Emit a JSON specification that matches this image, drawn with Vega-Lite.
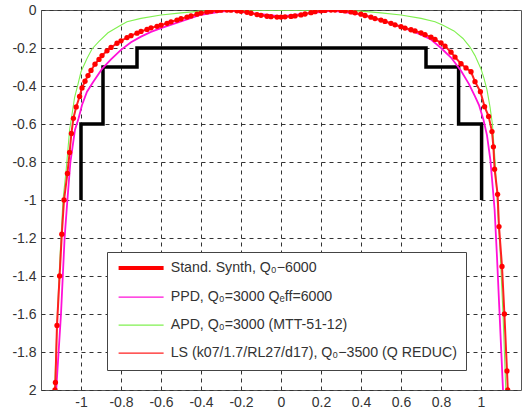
{
  "$schema": "https://vega.github.io/schema/vega-lite/v6.json",
  "width": 480,
  "height": 380,
  "autosize": {"type": "none"},
  "padding": {"left": 41, "top": 10, "right": 3, "bottom": 21},
  "background": "white",
  "config": {
    "view": {"stroke": "#555", "strokeWidth": 1},
    "axis": {
      "labelFont": "Liberation Sans", "labelFontSize": 14, "labelColor": "#333",
      "grid": true, "gridDash": [4, 4], "gridColor": "#333", "gridWidth": 1,
      "ticks": false, "domain": false, "title": null, "labelPadding": 5
    }
  },
  "data": {"values": [
    {"s":"S","o":1,"x":-1.0,"y":-1.0},{"s":"S","o":2,"x":-1.0,"y":-0.6},{"s":"S","o":3,"x":-0.89,"y":-0.6},{"s":"S","o":4,"x":-0.89,"y":-0.3},{"s":"S","o":5,"x":-0.72,"y":-0.3},{"s":"S","o":6,"x":-0.72,"y":-0.2},{"s":"S","o":7,"x":0.725,"y":-0.2},{"s":"S","o":8,"x":0.725,"y":-0.3},{"s":"S","o":9,"x":0.888,"y":-0.3},{"s":"S","o":10,"x":0.888,"y":-0.6},{"s":"S","o":11,"x":1.003,"y":-0.6},{"s":"S","o":12,"x":1.003,"y":-1.0},

    {"s":"P","o":1,"x":-1.124,"y":-2.0},{"s":"P","o":2,"x":-1.1,"y":-1.6},{"s":"P","o":3,"x":-1.082,"y":-1.2},{"s":"P","o":4,"x":-1.068,"y":-1.0},{"s":"P","o":5,"x":-1.053,"y":-0.8},{"s":"P","o":6,"x":-1.03,"y":-0.63},{"s":"P","o":7,"x":-1.012,"y":-0.57},{"s":"P","o":8,"x":-0.995,"y":-0.5},{"s":"P","o":9,"x":-0.97,"y":-0.43},{"s":"P","o":10,"x":-0.94,"y":-0.38},{"s":"P","o":11,"x":-0.895,"y":-0.31},{"s":"P","o":12,"x":-0.85,"y":-0.26},{"s":"P","o":13,"x":-0.8,"y":-0.21},{"s":"P","o":14,"x":-0.75,"y":-0.17},{"s":"P","o":15,"x":-0.7,"y":-0.14},{"s":"P","o":16,"x":-0.65,"y":-0.115},{"s":"P","o":17,"x":-0.6,"y":-0.095},{"s":"P","o":18,"x":-0.5,"y":-0.06},{"s":"P","o":19,"x":-0.4,"y":-0.025},{"s":"P","o":20,"x":-0.3,"y":-0.008},{"s":"P","o":21,"x":-0.25,"y":-0.004},{"s":"P","o":22,"x":-0.15,"y":-0.016},{"s":"P","o":23,"x":0.0,"y":-0.034},{"s":"P","o":24,"x":0.15,"y":-0.016},{"s":"P","o":25,"x":0.25,"y":-0.004},{"s":"P","o":26,"x":0.3,"y":-0.008},{"s":"P","o":27,"x":0.41,"y":-0.026},{"s":"P","o":28,"x":0.5,"y":-0.055},{"s":"P","o":29,"x":0.6,"y":-0.088},{"s":"P","o":30,"x":0.7,"y":-0.13},{"s":"P","o":31,"x":0.75,"y":-0.155},{"s":"P","o":32,"x":0.8,"y":-0.2},{"s":"P","o":33,"x":0.85,"y":-0.25},{"s":"P","o":34,"x":0.9,"y":-0.32},{"s":"P","o":35,"x":0.94,"y":-0.39},{"s":"P","o":36,"x":0.97,"y":-0.455},{"s":"P","o":37,"x":0.99,"y":-0.5},{"s":"P","o":38,"x":1.013,"y":-0.58},{"s":"P","o":39,"x":1.03,"y":-0.66},{"s":"P","o":40,"x":1.047,"y":-0.79},{"s":"P","o":41,"x":1.06,"y":-0.95},{"s":"P","o":42,"x":1.068,"y":-1.05},{"s":"P","o":43,"x":1.08,"y":-1.3},{"s":"P","o":44,"x":1.095,"y":-1.65},{"s":"P","o":45,"x":1.11,"y":-2.0},

    {"s":"A","o":1,"x":-1.132,"y":-2.0},{"s":"A","o":2,"x":-1.118,"y":-1.6},{"s":"A","o":3,"x":-1.105,"y":-1.3},{"s":"A","o":4,"x":-1.09,"y":-1.0},{"s":"A","o":5,"x":-1.074,"y":-0.84},{"s":"A","o":6,"x":-1.057,"y":-0.63},{"s":"A","o":7,"x":-1.045,"y":-0.55},{"s":"A","o":8,"x":-1.032,"y":-0.46},{"s":"A","o":9,"x":-1.015,"y":-0.39},{"s":"A","o":10,"x":-1.0,"y":-0.325},{"s":"A","o":11,"x":-0.97,"y":-0.255},{"s":"A","o":12,"x":-0.945,"y":-0.205},{"s":"A","o":13,"x":-0.91,"y":-0.165},{"s":"A","o":14,"x":-0.865,"y":-0.12},{"s":"A","o":15,"x":-0.81,"y":-0.086},{"s":"A","o":16,"x":-0.77,"y":-0.062},{"s":"A","o":17,"x":-0.7,"y":-0.044},{"s":"A","o":18,"x":-0.6,"y":-0.026},{"s":"A","o":19,"x":-0.5,"y":-0.015},{"s":"A","o":20,"x":-0.4,"y":-0.006},{"s":"A","o":21,"x":-0.3,"y":-0.002},{"s":"A","o":22,"x":-0.2,"y":-0.001},{"s":"A","o":23,"x":0.0,"y":-0.001},{"s":"A","o":24,"x":0.2,"y":-0.001},{"s":"A","o":25,"x":0.3,"y":-0.002},{"s":"A","o":26,"x":0.4,"y":-0.006},{"s":"A","o":27,"x":0.5,"y":-0.015},{"s":"A","o":28,"x":0.6,"y":-0.026},{"s":"A","o":29,"x":0.7,"y":-0.044},{"s":"A","o":30,"x":0.77,"y":-0.062},{"s":"A","o":31,"x":0.81,"y":-0.08},{"s":"A","o":32,"x":0.865,"y":-0.11},{"s":"A","o":33,"x":0.91,"y":-0.15},{"s":"A","o":34,"x":0.945,"y":-0.195},{"s":"A","o":35,"x":0.97,"y":-0.24},{"s":"A","o":36,"x":1.0,"y":-0.31},{"s":"A","o":37,"x":1.015,"y":-0.36},{"s":"A","o":38,"x":1.03,"y":-0.42},{"s":"A","o":39,"x":1.045,"y":-0.51},{"s":"A","o":40,"x":1.057,"y":-0.6},{"s":"A","o":41,"x":1.07,"y":-0.79},{"s":"A","o":42,"x":1.083,"y":-1.035},{"s":"A","o":43,"x":1.097,"y":-1.3},{"s":"A","o":44,"x":1.11,"y":-1.6},{"s":"A","o":45,"x":1.124,"y":-2.0},

    {"s":"L","o":1,"x":-1.13,"y":-2.0},{"s":"L","o":2,"x":-1.128,"y":-1.96},{"s":"L","o":3,"x":-1.12,"y":-1.66},{"s":"L","o":4,"x":-1.107,"y":-1.4},{"s":"L","o":5,"x":-1.096,"y":-1.18},{"s":"L","o":6,"x":-1.085,"y":-1.0},{"s":"L","o":7,"x":-1.068,"y":-0.86},{"s":"L","o":8,"x":-1.057,"y":-0.75},{"s":"L","o":9,"x":-1.048,"y":-0.65},{"s":"L","o":10,"x":-1.038,"y":-0.57},{"s":"L","o":11,"x":-1.024,"y":-0.51},{"s":"L","o":12,"x":-1.007,"y":-0.455},{"s":"L","o":13,"x":-0.995,"y":-0.41},{"s":"L","o":14,"x":-0.98,"y":-0.375},{"s":"L","o":15,"x":-0.965,"y":-0.345},{"s":"L","o":16,"x":-0.95,"y":-0.318},{"s":"L","o":17,"x":-0.93,"y":-0.285},{"s":"L","o":18,"x":-0.91,"y":-0.26},{"s":"L","o":19,"x":-0.895,"y":-0.24},{"s":"L","o":20,"x":-0.87,"y":-0.215},{"s":"L","o":21,"x":-0.85,"y":-0.197},{"s":"L","o":22,"x":-0.82,"y":-0.175},{"s":"L","o":23,"x":-0.8,"y":-0.162},{"s":"L","o":24,"x":-0.77,"y":-0.145},{"s":"L","o":25,"x":-0.75,"y":-0.135},{"s":"L","o":26,"x":-0.72,"y":-0.122},{"s":"L","o":27,"x":-0.7,"y":-0.113},{"s":"L","o":28,"x":-0.67,"y":-0.102},{"s":"L","o":29,"x":-0.65,"y":-0.094},{"s":"L","o":30,"x":-0.62,"y":-0.086},{"s":"L","o":31,"x":-0.6,"y":-0.08},{"s":"L","o":32,"x":-0.57,"y":-0.07},{"s":"L","o":33,"x":-0.55,"y":-0.062},{"s":"L","o":34,"x":-0.52,"y":-0.053},{"s":"L","o":35,"x":-0.5,"y":-0.046},{"s":"L","o":36,"x":-0.47,"y":-0.037},{"s":"L","o":37,"x":-0.45,"y":-0.031},{"s":"L","o":38,"x":-0.42,"y":-0.022},{"s":"L","o":39,"x":-0.4,"y":-0.016},{"s":"L","o":40,"x":-0.37,"y":-0.01},{"s":"L","o":41,"x":-0.35,"y":-0.006},{"s":"L","o":42,"x":-0.32,"y":-0.003},{"s":"L","o":43,"x":-0.3,"y":-0.001},{"s":"L","o":44,"x":-0.27,"y":0.0},{"s":"L","o":45,"x":-0.25,"y":-0.001},{"s":"L","o":46,"x":-0.22,"y":-0.004},{"s":"L","o":47,"x":-0.2,"y":-0.007},{"s":"L","o":48,"x":-0.17,"y":-0.012},{"s":"L","o":49,"x":-0.15,"y":-0.017},{"s":"L","o":50,"x":-0.12,"y":-0.024},{"s":"L","o":51,"x":-0.1,"y":-0.028},{"s":"L","o":52,"x":-0.07,"y":-0.033},{"s":"L","o":53,"x":-0.05,"y":-0.035},{"s":"L","o":54,"x":-0.02,"y":-0.037},{"s":"L","o":55,"x":0.0,"y":-0.037},{"s":"L","o":56,"x":0.02,"y":-0.036},{"s":"L","o":57,"x":0.05,"y":-0.034},{"s":"L","o":58,"x":0.07,"y":-0.031},{"s":"L","o":59,"x":0.1,"y":-0.026},{"s":"L","o":60,"x":0.12,"y":-0.021},{"s":"L","o":61,"x":0.15,"y":-0.014},{"s":"L","o":62,"x":0.17,"y":-0.009},{"s":"L","o":63,"x":0.2,"y":-0.004},{"s":"L","o":64,"x":0.22,"y":-0.002},{"s":"L","o":65,"x":0.25,"y":0.0},{"s":"L","o":66,"x":0.27,"y":0.0},{"s":"L","o":67,"x":0.3,"y":-0.002},{"s":"L","o":68,"x":0.32,"y":-0.005},{"s":"L","o":69,"x":0.35,"y":-0.01},{"s":"L","o":70,"x":0.37,"y":-0.015},{"s":"L","o":71,"x":0.4,"y":-0.022},{"s":"L","o":72,"x":0.42,"y":-0.029},{"s":"L","o":73,"x":0.45,"y":-0.038},{"s":"L","o":74,"x":0.47,"y":-0.045},{"s":"L","o":75,"x":0.5,"y":-0.053},{"s":"L","o":76,"x":0.52,"y":-0.06},{"s":"L","o":77,"x":0.55,"y":-0.07},{"s":"L","o":78,"x":0.57,"y":-0.078},{"s":"L","o":79,"x":0.6,"y":-0.088},{"s":"L","o":80,"x":0.62,"y":-0.095},{"s":"L","o":81,"x":0.65,"y":-0.104},{"s":"L","o":82,"x":0.67,"y":-0.11},{"s":"L","o":83,"x":0.7,"y":-0.12},{"s":"L","o":84,"x":0.72,"y":-0.13},{"s":"L","o":85,"x":0.75,"y":-0.143},{"s":"L","o":86,"x":0.77,"y":-0.155},{"s":"L","o":87,"x":0.8,"y":-0.173},{"s":"L","o":88,"x":0.82,"y":-0.19},{"s":"L","o":89,"x":0.85,"y":-0.222},{"s":"L","o":90,"x":0.87,"y":-0.248},{"s":"L","o":91,"x":0.9,"y":-0.283},{"s":"L","o":92,"x":0.925,"y":-0.305},{"s":"L","o":93,"x":0.95,"y":-0.325},{"s":"L","o":94,"x":0.97,"y":-0.377},{"s":"L","o":95,"x":0.997,"y":-0.43},{"s":"L","o":96,"x":1.018,"y":-0.509},{"s":"L","o":97,"x":1.038,"y":-0.56},{"s":"L","o":98,"x":1.055,"y":-0.64},{"s":"L","o":99,"x":1.062,"y":-0.72},{"s":"L","o":100,"x":1.068,"y":-0.838},{"s":"L","o":101,"x":1.083,"y":-0.97},{"s":"L","o":102,"x":1.09,"y":-1.14},{"s":"L","o":103,"x":1.105,"y":-1.35},{"s":"L","o":104,"x":1.117,"y":-1.6},{"s":"L","o":105,"x":1.13,"y":-1.9},{"s":"L","o":106,"x":1.134,"y":-2.0}
  ]},
  "encoding": {
    "x": {"field": "x", "type": "quantitative",
      "scale": {"domain": [-1.2, 1.2], "nice": false, "zero": false},
      "axis": {"values": [-1, -0.8, -0.6, -0.4, -0.2, 0, 0.2, 0.4, 0.6, 0.8, 1], "labelExpr": "'' + datum.value"}},
    "y": {"field": "y", "type": "quantitative",
      "scale": {"domain": [-2, 0], "nice": false, "zero": false},
      "axis": {"values": [-2, -1.8, -1.6, -1.4, -1.2, -1, -0.8, -0.6, -0.4, -0.2, 0], "labelExpr": "datum.value == -2 ? '2' : '' + datum.value"}},
    "order": {"field": "o", "type": "quantitative"},
    "color": {"field": "s", "type": "nominal",
      "scale": {"domain": ["S", "P", "A", "L"], "range": ["#ff0000", "#ff10d8", "#80f050", "#ff2020"]},
      "legend": {
        "orient": "none", "legendX": 66, "legendY": 242, "title": null,
        "padding": 9, "fillColor": "white", "strokeColor": "#444",
        "labelFont": "Liberation Sans", "labelFontSize": 14.2, "labelColor": "#333", "labelOffset": 40.5,
        "symbolType": "M-0.9,0H8.1", "symbolSize": 100,
        "symbolStrokeWidth": {"expr": "datum.value == 'S' ? 4 : 1.2"},
        "rowPadding": 13,
        "labelLimit": 400,
        "labelExpr": "datum.label == 'S' ? 'Stand. Synth, Q₀−6000' : datum.label == 'P' ? 'PPD, Q₀=3000  Qₑff=6000' : datum.label == 'A' ? 'APD, Q₀=3000 (MTT-51-12)' : 'LS (k07/1.7/RL27/d17), Q₀−3500 (Q REDUC)'"
      }}
  },
  "layer": [
    {
      "transform": [{"filter": "datum.s == 'S'"}],
      "mark": {"type": "line", "strokeWidth": 3.5, "strokeJoin": "miter", "clip": true},
      "encoding": {"stroke": {"value": "black"}}
    },
    {
      "transform": [{"filter": "datum.s == 'P'"}],
      "mark": {"type": "line", "strokeWidth": 1.8, "clip": true}
    },
    {
      "transform": [{"filter": "datum.s == 'A'"}],
      "mark": {"type": "line", "strokeWidth": 1.1, "clip": true}
    },
    {
      "transform": [{"filter": "datum.s == 'L'"}],
      "mark": {"type": "line", "strokeWidth": 2, "clip": true}
    },
    {
      "transform": [{"filter": "datum.s == 'L'"}],
      "mark": {"type": "point", "filled": true, "size": 28, "opacity": 1, "clip": true},
      "encoding": {"color": {"value": "#ff0000"}}
    }
  ]
}
